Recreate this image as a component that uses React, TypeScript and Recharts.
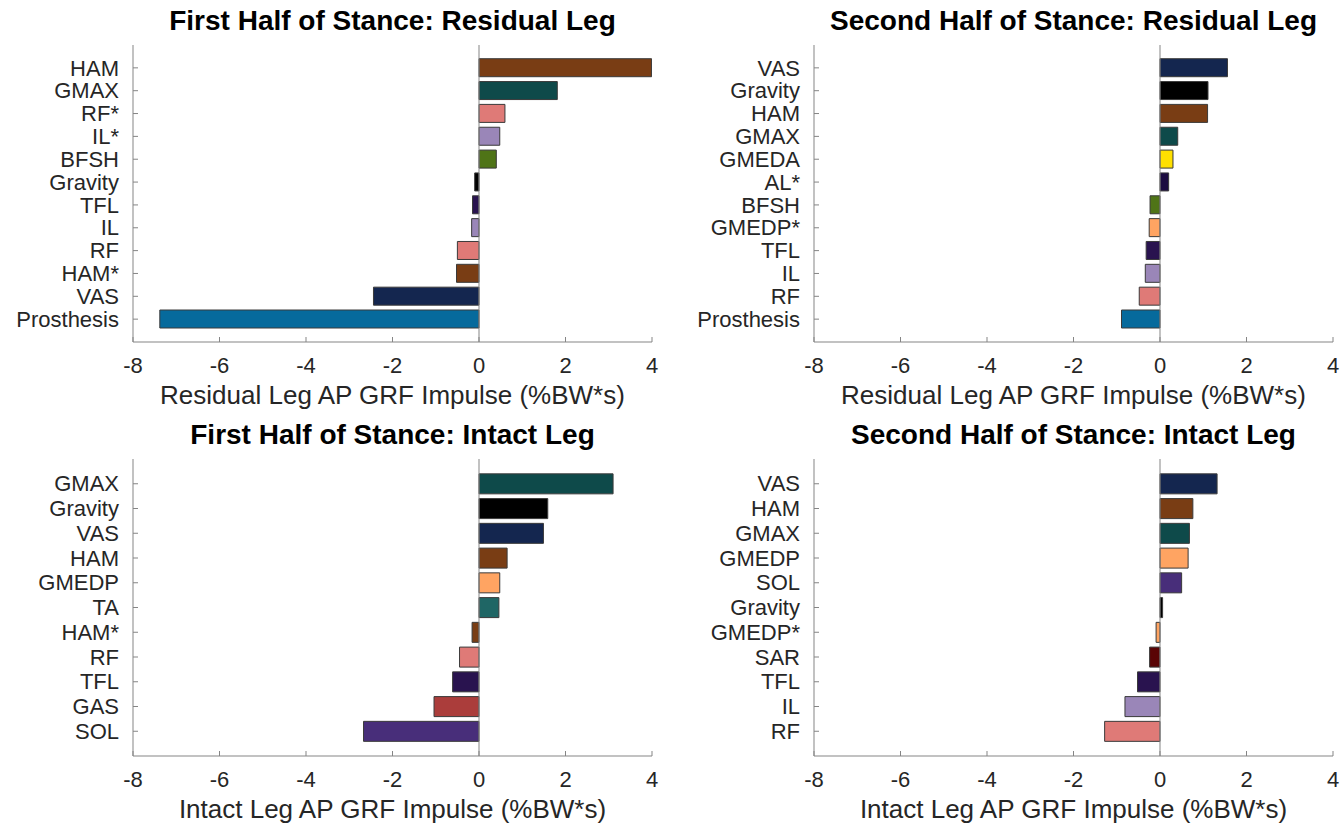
import React from 'react';
import { BarChart, Bar, XAxis, YAxis, Cell, ReferenceLine } from 'recharts';

// ---------- data ----------
const muscleColors: Record<string, string> = {
  HAM: '#793D14',
  GMAX: '#0E4A4A',
  RF: '#DF7A77',
  IL: '#9A86B8',
  BFSH: '#4F7417',
  Gravity: '#000000',
  TFL: '#29134F',
  VAS: '#14264F',
  Prosthesis: '#066A9C',
  GMEDA: '#FFE000',
  AL: '#1C0C40',
  GMEDP: '#FFA462',
  TA: '#1F6665',
  GAS: '#AB3D3B',
  SOL: '#482E7A',
  SAR: '#5A0405',
};

const xTicks = [-8, -6, -4, -2, 0, 2, 4];
const xDomain: [number, number] = [-8, 4];

const residualFirstLabels = ['HAM', 'GMAX', 'RF*', 'IL*', 'BFSH', 'Gravity', 'TFL', 'IL', 'RF', 'HAM*', 'VAS', 'Prosthesis'];
const residualFirstValues = [3.99, 1.81, 0.6, 0.48, 0.4, -0.1, -0.15, -0.17, -0.5, -0.52, -2.44, -7.38];

const residualSecondLabels = ['VAS', 'Gravity', 'HAM', 'GMAX', 'GMEDA', 'AL*', 'BFSH', 'GMEDP*', 'TFL', 'IL', 'RF', 'Prosthesis'];
const residualSecondValues = [1.56, 1.11, 1.1, 0.41, 0.3, 0.2, -0.23, -0.25, -0.32, -0.34, -0.48, -0.89];

const intactFirstLabels = ['GMAX', 'Gravity', 'VAS', 'HAM', 'GMEDP', 'TA', 'HAM*', 'RF', 'TFL', 'GAS', 'SOL'];
const intactFirstValues = [3.1, 1.59, 1.49, 0.65, 0.48, 0.46, -0.16, -0.45, -0.61, -1.04, -2.67];

const intactSecondLabels = ['VAS', 'HAM', 'GMAX', 'GMEDP', 'SOL', 'Gravity', 'GMEDP*', 'SAR', 'TFL', 'IL', 'RF'];
const intactSecondValues = [1.32, 0.76, 0.68, 0.65, 0.5, 0.06, -0.09, -0.24, -0.52, -0.81, -1.28];

// ---------- styling ----------
const FONT = '"Liberation Sans", Arial, Helvetica, sans-serif';
const AXIS_COLOR = '#858585';
const TEXT_COLOR = '#262626';
const TICK_FONT = 22;
const CHART_W = 670;
const CHART_H = 416;
const PLOT_LEFT = 133;
const PLOT_TOP = 45;
const PLOT_W = 519;
const PLOT_H = 297;
const Y_TICK_MARGIN = 14;
const X_TICK_MARGIN = 10;

const YTick = (props: any) => {
  const { x, y, payload } = props;
  return (
    <g>
      <text x={x} y={y} dy="0.35em" textAnchor="end" fontSize={TICK_FONT} fill={TEXT_COLOR} fontFamily={FONT}>
        {payload.value}
      </text>
      <line x1={x + Y_TICK_MARGIN} x2={x + Y_TICK_MARGIN + 5} y1={y} y2={y} stroke={AXIS_COLOR} strokeWidth={1} />
    </g>
  );
};

const XTick = (props: any) => {
  const { x, y, payload } = props;
  return (
    <g>
      <text x={x} y={y + 21} textAnchor="middle" fontSize={TICK_FONT} fill={TEXT_COLOR} fontFamily={FONT}>
        {payload.value}
      </text>
      <line x1={x} x2={x} y1={y - X_TICK_MARGIN} y2={y - X_TICK_MARGIN - 5} stroke={AXIS_COLOR} strokeWidth={1} />
    </g>
  );
};

type PanelProps = {
  title: string;
  xLabel: string;
  labels: string[];
  values: number[];
  left: number;
  top: number;
};

const Panel = ({ title, xLabel, labels, values, left, top }: PanelProps) => {
  const data = labels.map((name, i) => ({
    name,
    value: values[i],
    color: muscleColors[name.replace('*', '')],
  }));
  const band = PLOT_H / (labels.length + 1);
  const pad = band / 2;
  return (
    <div style={{ position: 'absolute', left, top, width: CHART_W, height: CHART_H }}>
      <BarChart
        width={CHART_W}
        height={CHART_H}
        data={data}
        layout="vertical"
        margin={{ top: PLOT_TOP, right: CHART_W - PLOT_LEFT - PLOT_W, left: 0, bottom: 0 }}
        barCategoryGap="10%"
      >
        <XAxis
          type="number"
          domain={xDomain}
          ticks={xTicks}
          interval={0}
          allowDataOverflow
          height={CHART_H - PLOT_TOP - PLOT_H}
          axisLine={{ stroke: AXIS_COLOR, strokeWidth: 1 }}
          tickLine={false}
          tickSize={0}
          tickMargin={X_TICK_MARGIN}
          tick={<XTick />}
          label={{
            content: (p: any) => {
              const vb = p.viewBox || {};
              return (
                <text
                  x={vb.x + vb.width / 2}
                  y={vb.y + 62}
                  textAnchor="middle"
                  fontSize={26}
                  fill={TEXT_COLOR}
                  fontFamily={FONT}
                >
                  {xLabel}
                </text>
              );
            },
          }}
        />
        <YAxis
          type="category"
          dataKey="name"
          width={PLOT_LEFT}
          interval={0}
          padding={{ top: pad, bottom: pad }}
          axisLine={{ stroke: AXIS_COLOR, strokeWidth: 1 }}
          tickLine={false}
          tickSize={0}
          tickMargin={Y_TICK_MARGIN}
          tick={<YTick />}
        />
        <ReferenceLine x={0} stroke={AXIS_COLOR} strokeWidth={1} />
        <Bar dataKey="value" isAnimationActive={false} stroke="#3a3a3a" strokeWidth={1}>
          {data.map((d, i) => (
            <Cell key={i} fill={d.color} />
          ))}
        </Bar>
      </BarChart>
      <svg
        width={CHART_W}
        height={40}
        style={{ position: 'absolute', left: 0, top: 0, pointerEvents: 'none' }}
      >
        <text
          x={PLOT_LEFT + PLOT_W / 2}
          y={30}
          textAnchor="middle"
          fontSize={28}
          fontWeight="bold"
          fill="#000"
          fontFamily={FONT}
        >
          {title}
        </text>
      </svg>
    </div>
  );
};

export default function App() {
  return (
    <div
      style={{
        position: 'absolute',
        left: 0,
        top: 0,
        width: 1341,
        height: 833,
        background: '#fff',
        overflow: 'hidden',
      }}
    >
      <Panel
        title="First Half of Stance: Residual Leg"
        xLabel="Residual Leg AP GRF Impulse (%BW*s)"
        labels={residualFirstLabels}
        values={residualFirstValues}
        left={0}
        top={0}
      />
      <Panel
        title="Second Half of Stance: Residual Leg"
        xLabel="Residual Leg AP GRF Impulse (%BW*s)"
        labels={residualSecondLabels}
        values={residualSecondValues}
        left={681}
        top={0}
      />
      <Panel
        title="First Half of Stance: Intact Leg"
        xLabel="Intact Leg AP GRF Impulse (%BW*s)"
        labels={intactFirstLabels}
        values={intactFirstValues}
        left={0}
        top={414}
      />
      <Panel
        title="Second Half of Stance: Intact Leg"
        xLabel="Intact Leg AP GRF Impulse (%BW*s)"
        labels={intactSecondLabels}
        values={intactSecondValues}
        left={681}
        top={414}
      />
    </div>
  );
}
